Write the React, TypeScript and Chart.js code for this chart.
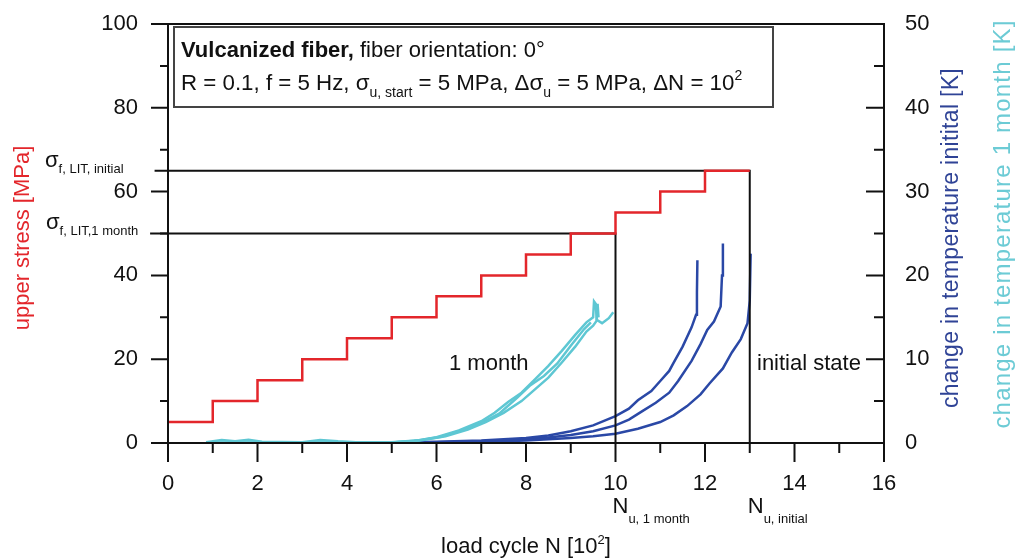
import React, { useEffect, useRef } from "react";
import { Chart, registerables } from "chart.js";
Chart.register(...registerables);

const FONT = '"Liberation Sans", Arial, Helvetica, sans-serif';

// load cycle steps [10^2] and upper stress [MPa]
const stressCycles = [0, 1, 2, 3, 4, 5, 6, 7, 8, 9, 10, 11, 12, 13];
const stressValues = [5, 10, 15, 20, 25, 30, 35, 40, 45, 50, 55, 60, 65, 65];

// reference lines (fatigue limits / failure cycles)
const refInitialX = [-0.3, 13, 13];
const refInitialY = [65, 65, 0];
const ref1MonthX = [-0.4, 10, 10];
const ref1MonthY = [50, 50, 0];

// temperature change, 1 month [N 10^2, K]
const cyanA: [number, number][] = [[0.85, 0.1], [1.2, 0.35], [1.5, 0.2], [1.8, 0.4], [2.1, 0.15], [3, 0.1], [3.4, 0.35], [3.8, 0.2], [4.2, 0.1], [5, 0.05], [5.5, 0.25], [6, 0.7], [6.5, 1.5], [7, 2.6], [7.3, 3.6], [7.6, 4.9], [7.9, 6.0], [8.2, 7.6], [8.5, 9.2], [8.8, 11.0], [9.1, 12.9], [9.35, 14.4], [9.5, 15.0], [9.52, 16.9], [9.56, 16.6], [9.58, 14.7], [9.7, 14.3], [9.85, 14.9], [9.95, 15.6]];
const cyanB: [number, number][] = [[0.85, 0], [2, 0.05], [4, 0.05], [5, 0.1], [5.7, 0.35], [6.2, 0.8], [6.7, 1.6], [7.1, 2.5], [7.5, 3.6], [7.9, 5.0], [8.2, 6.4], [8.5, 7.8], [8.8, 9.6], [9.1, 11.5], [9.35, 13.3], [9.5, 14.0], [9.58, 14.6], [9.6, 16.6], [9.62, 15.0]];
const cyanC: [number, number][] = [[0.85, 0.05], [5, 0.05], [5.6, 0.3], [6.1, 0.75], [6.6, 1.6], [7.0, 2.4], [7.4, 3.5], [7.8, 5.4], [8.1, 6.9], [8.4, 8.0], [8.7, 9.5], [9.0, 11.6], [9.3, 13.6], [9.45, 14.4]];

// temperature change, initial state [N 10^2, K]
const blueA: [number, number][] = [[5, 0.05], [6, 0.15], [7, 0.3], [7.5, 0.45], [8, 0.6], [8.5, 0.9], [9, 1.4], [9.5, 2.1], [10, 3.2], [10.3, 4.1], [10.5, 5.1], [10.8, 6.2], [11, 7.4], [11.2, 8.6], [11.3, 9.6], [11.5, 11.5], [11.7, 13.8], [11.8, 15.3], [11.82, 18], [11.83, 21.8]];
const blueB: [number, number][] = [[5, 0], [6, 0.1], [7, 0.2], [8, 0.45], [8.5, 0.65], [9, 0.95], [9.5, 1.4], [10, 2.1], [10.3, 2.8], [10.6, 3.8], [10.9, 4.8], [11.2, 6.0], [11.4, 7.4], [11.7, 9.8], [11.9, 11.8], [12.05, 13.5], [12.2, 14.5], [12.35, 16.3], [12.38, 20], [12.4, 23.8]];
const blueC: [number, number][] = [[5, 0], [6, 0.05], [7, 0.12], [8, 0.3], [9, 0.6], [9.5, 0.8], [10, 1.1], [10.5, 1.7], [11, 2.5], [11.3, 3.3], [11.6, 4.4], [11.9, 5.8], [12.1, 7.1], [12.4, 8.9], [12.6, 10.8], [12.8, 12.4], [12.95, 14.3], [13.0, 17], [13.02, 22.6]];

// axis ticks
const xMajor = [0, 2, 4, 6, 8, 10, 12, 14, 16];
const xMinor = [1, 3, 5, 7, 9, 11, 13, 15];
const yMajor = [0, 20, 40, 60, 80, 100];
const yMinor = [10, 30, 50, 70, 90];
const y2Major = [0, 10, 20, 30, 40, 50];
const y2Minor = [5, 15, 25, 35, 45];

const RED = "#e3262b";
const BLUE = "#2a48a6";
const BLUE_T = "#2f4396";
const CYAN = "#5ec7d3";
const CYAN_T = "#6ccbd5";
const INK = "#111";

type Part = { t: string; size: number; bold?: boolean; dy?: number };

function partsWidth(ctx: CanvasRenderingContext2D, parts: Part[]) {
  let w = 0;
  for (const p of parts) {
    ctx.font = `${p.bold ? "bold " : ""}${p.size}px ${FONT}`;
    w += ctx.measureText(p.t).width;
  }
  return w;
}

function drawParts(ctx: CanvasRenderingContext2D, x: number, y: number, parts: Part[], color: string) {
  let cx = x;
  ctx.fillStyle = color;
  ctx.textAlign = "left";
  ctx.textBaseline = "alphabetic";
  for (const p of parts) {
    ctx.font = `${p.bold ? "bold " : ""}${p.size}px ${FONT}`;
    ctx.fillText(p.t, cx, y + (p.dy || 0));
    cx += ctx.measureText(p.t).width;
  }
}

function drawRotated(ctx: CanvasRenderingContext2D, text: string, x: number, cy: number, size: number, color: string, spacing = 0) {
  ctx.save();
  ctx.translate(x, cy);
  ctx.rotate(-Math.PI / 2);
  ctx.font = `${size}px ${FONT}`;
  (ctx as any).letterSpacing = `${spacing}px`;
  ctx.fillStyle = color;
  ctx.textAlign = "center";
  ctx.textBaseline = "alphabetic";
  ctx.fillText(text, 0, 0);
  ctx.restore();
}

const decorPlugin = {
  id: "decor",
  afterDraw(chart: any) {
    const ctx: CanvasRenderingContext2D = chart.ctx;
    const { left, right, top, bottom } = chart.chartArea;
    const xs = chart.scales.x;
    const ys = chart.scales.y;
    const y2 = chart.scales.y2;
    ctx.save();
    ctx.strokeStyle = INK;
    ctx.lineWidth = 2;
    ctx.lineCap = "butt";
    // frame
    ctx.beginPath();
    ctx.moveTo(left, top);
    ctx.lineTo(right, top);
    ctx.moveTo(left, top - 1);
    ctx.lineTo(left, bottom + 1);
    ctx.moveTo(right, top - 1);
    ctx.lineTo(right, bottom + 1);
    ctx.moveTo(left, bottom);
    ctx.lineTo(right, bottom);
    ctx.stroke();
    // ticks
    ctx.beginPath();
    for (const v of yMajor) {
      const p = ys.getPixelForValue(v);
      ctx.moveTo(left - 17, p);
      ctx.lineTo(left, p);
    }
    for (const v of yMinor) {
      const p = ys.getPixelForValue(v);
      ctx.moveTo(left - 8, p);
      ctx.lineTo(left, p);
    }
    for (const v of y2Major) {
      const p = y2.getPixelForValue(v);
      ctx.moveTo(right - 18, p);
      ctx.lineTo(right, p);
    }
    for (const v of y2Minor) {
      const p = y2.getPixelForValue(v);
      ctx.moveTo(right - 10, p);
      ctx.lineTo(right, p);
    }
    for (const v of xMajor) {
      const p = xs.getPixelForValue(v);
      ctx.moveTo(p, bottom);
      ctx.lineTo(p, bottom + 19);
    }
    for (const v of xMinor) {
      const p = xs.getPixelForValue(v);
      ctx.moveTo(p, bottom);
      ctx.lineTo(p, bottom + 10);
    }
    ctx.stroke();

    // info box
    ctx.fillStyle = "#fff";
    ctx.fillRect(174, 27, 599, 80);
    ctx.strokeStyle = "#444";
    ctx.lineWidth = 2;
    ctx.strokeRect(174, 27, 599, 80);
    drawParts(ctx, 181, 57, [
      { t: "Vulcanized fiber,", size: 22, bold: true },
      { t: " fiber orientation: 0°", size: 22 },
    ], INK);
    drawParts(ctx, 181, 90, [
      { t: "R = 0.1, f = 5 Hz, σ", size: 22.3 },
      { t: "u, start", size: 14, dy: 7 },
      { t: " = 5 MPa, Δσ", size: 22.3 },
      { t: "u", size: 14, dy: 7 },
      { t: " = 5 MPa, ΔN = 10", size: 22.3 },
      { t: "2", size: 14, dy: -10 },
    ], INK);

    // sigma labels on left
    drawParts(ctx, 45, 167, [
      { t: "σ", size: 22 },
      { t: "f, LIT, initial", size: 13, dy: 6 },
    ], INK);
    drawParts(ctx, 46, 229, [
      { t: "σ", size: 22 },
      { t: "f, LIT,1 month", size: 13, dy: 6 },
    ], INK);

    // in-plot labels
    drawParts(ctx, 449, 370, [{ t: "1 month", size: 22 }], INK);
    drawParts(ctx, 757, 370, [{ t: "initial state", size: 22 }], INK);

    // N_u labels
    drawParts(ctx, xs.getPixelForValue(10) - 3, 513, [
      { t: "N", size: 22 },
      { t: "u, 1 month", size: 13, dy: 10 },
    ], INK);
    drawParts(ctx, xs.getPixelForValue(13) - 2, 513, [
      { t: "N", size: 22 },
      { t: "u, initial", size: 13, dy: 10 },
    ], INK);

    // x title
    const xt: Part[] = [
      { t: "load cycle N [10", size: 22 },
      { t: "2", size: 13, dy: -9 },
      { t: "]", size: 22 },
    ];
    const w = partsWidth(ctx, xt);
    drawParts(ctx, (left + right) / 2 - w / 2, 553, xt, INK);

    // y titles
    drawRotated(ctx, "upper stress [MPa]", 29, 238, 22, RED);
    drawRotated(ctx, "change in temperature initital [K]", 958, 238, 23, BLUE_T, 0.3);
    drawRotated(ctx, "change in temperature 1 month [K]", 1010, 224, 24, CYAN_T, 1.2);
    ctx.restore();
  },
};

function xy(xsArr: number[], ysArr: number[]) {
  return xsArr.map((x, i) => ({ x, y: ysArr[i] }));
}
function pairs(arr: [number, number][]) {
  return arr.map(([x, y]) => ({ x, y }));
}

const noPad = (s: any) => {
  s.paddingTop = 0;
  s.paddingBottom = 0;
  s.paddingLeft = 0;
  s.paddingRight = 0;
};

export default function App() {
  const ref = useRef<HTMLCanvasElement | null>(null);
  useEffect(() => {
    if (!ref.current) return;
    const line = (data: any[], color: string, width: number, axis: string, extra: any = {}) => ({
      data,
      borderColor: color,
      backgroundColor: color,
      borderWidth: width,
      pointRadius: 0,
      fill: false,
      tension: 0,
      yAxisID: axis,
      ...extra,
    });
    const chart = new Chart(ref.current, {
      type: "line",
      data: {
        datasets: [
          line(xy(stressCycles, stressValues), RED, 2.5, "y", { stepped: "before" }),
          line(xy(refInitialX, refInitialY), INK, 2, "y", { clip: false }),
          line(xy(ref1MonthX, ref1MonthY), INK, 2, "y", { clip: false }),
          line(pairs(cyanA), CYAN, 2.5, "y2"),
          line(pairs(cyanB), CYAN, 2.5, "y2"),
          line(pairs(cyanC), CYAN, 2.5, "y2"),
          line(pairs(blueA), BLUE, 2.5, "y2"),
          line(pairs(blueB), BLUE, 2.5, "y2"),
          line(pairs(blueC), BLUE, 2.5, "y2"),
        ] as any,
      },
      options: {
        animation: false,
        responsive: false,
        devicePixelRatio: 1,
        parsing: false as any,
        normalized: true,
        layout: { padding: { left: 0, right: 0, top: 24, bottom: 0 } },
        plugins: { legend: { display: false }, tooltip: { enabled: false }, title: { display: false } },
        events: [],
        scales: {
          x: {
            type: "linear",
            position: "bottom",
            min: 0,
            max: 16,
            afterFit: (s: any) => { s.height = 115; noPad(s); },
            grid: { display: false, drawTicks: false },
            border: { display: false },
            ticks: { stepSize: 2, padding: 28, color: INK, font: { family: FONT, size: 22 }, maxRotation: 0, autoSkip: false },
          },
          y: {
            type: "linear",
            position: "left",
            min: 0,
            max: 100,
            afterFit: (s: any) => { s.width = 168; noPad(s); },
            grid: { display: false, drawTicks: false },
            border: { display: false },
            ticks: { stepSize: 20, padding: 30, color: INK, font: { family: FONT, size: 22 } },
          },
          y2: {
            type: "linear",
            position: "right",
            min: 0,
            max: 50,
            afterFit: (s: any) => { s.width = 136; noPad(s); },
            grid: { display: false, drawTicks: false },
            border: { display: false },
            ticks: { stepSize: 10, padding: 21, color: INK, font: { family: FONT, size: 22 } },
          },
        },
      } as any,
      plugins: [decorPlugin],
    });
    return () => chart.destroy();
  }, []);
  return (
    <div style={{ position: "fixed", left: 0, top: 0, width: 1020, height: 558, background: "#fff" }}>
      <canvas ref={ref} width={1020} height={558} style={{ display: "block", width: 1020, height: 558 }} />
    </div>
  );
}
